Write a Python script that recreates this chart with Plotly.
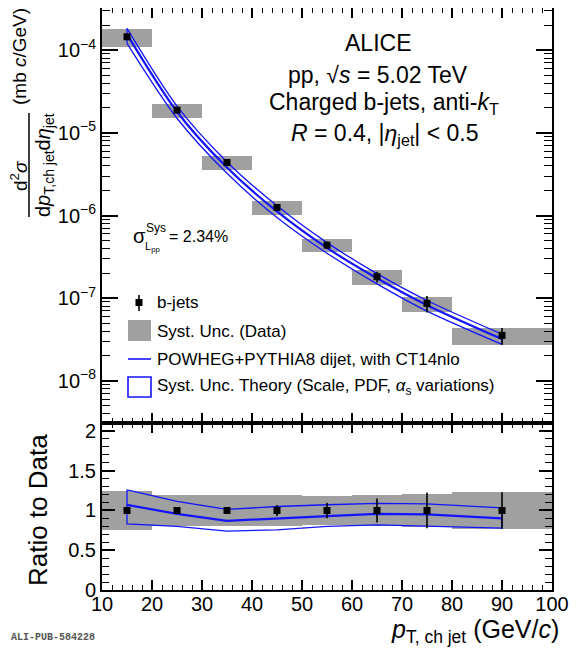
import plotly.graph_objects as go

# ---------------- data ----------------
bin_lo = [10, 20, 30, 40, 50, 60, 70, 80]
bin_hi = [20, 30, 40, 50, 60, 70, 80, 100]
pt = [15, 25, 35, 45, 55, 65, 75, 90]
xsec = [1.45e-4, 1.88e-5, 4.38e-6, 1.25e-6, 4.38e-7, 1.82e-7, 8.65e-8, 3.55e-8]
stat_rel = [0.005, 0.01, 0.025, 0.07, 0.097, 0.15, 0.225, 0.23]
sys_rel = [0.24, 0.20, 0.19, 0.19, 0.18, 0.20, 0.21, 0.235]

theo_c = [1.55e-4, 1.80e-5, 3.81e-6, 1.12e-6, 4.06e-7, 1.74e-7, 8.22e-8, 3.20e-8]
theo_up = [1.83e-4, 2.10e-5, 4.44e-6, 1.31e-6, 4.70e-7, 1.98e-7, 9.38e-8, 3.67e-8]
theo_dn = [1.21e-4, 1.50e-5, 3.24e-6, 9.46e-7, 3.50e-7, 1.49e-7, 6.98e-8, 2.76e-8]

ratio_data = [1, 1, 1, 1, 1, 1, 1, 1]
ratio_c = [1.07, 0.958, 0.87, 0.895, 0.928, 0.958, 0.95, 0.90]
ratio_up = [1.26, 1.115, 1.013, 1.05, 1.072, 1.09, 1.084, 1.034]
ratio_dn = [0.832, 0.80, 0.74, 0.757, 0.80, 0.82, 0.807, 0.778]

log_major = [1e-8, 1e-7, 1e-6, 1e-5, 1e-4]
log_labels = ["10<sup>−8</sup>", "10<sup>−7</sup>", "10<sup>−6</sup>",
              "10<sup>−5</sup>", "10<sup>−4</sup>"]
log_minor = [m * 10.0 ** e for e in range(-9, -3) for m in range(2, 10)]

# ---------------- geometry helpers ----------------
PAGE_W, PAGE_H = 582, 650
BODY = 8                      # default body margin of the html page
W, H = PAGE_W - BODY, PAGE_H - BODY
L, R, T, B = 102, 552, 8, 590  # plot-area edges in page pixels
SPLIT = 423


def fx(px):
    return (px - L) / (R - L)


def fy(py):
    return (B - py) / (B - T)


GREY = "#a0a0a0"
BLUE = "#1414ff"
FONT = "Liberation Sans"

widths = [h - l for l, h in zip(bin_lo, bin_hi)]

fig = go.Figure()

# ---------------- top panel ----------------
fig.add_trace(go.Bar(
    x=pt, width=widths,
    base=[v * (1 - s) for v, s in zip(xsec, sys_rel)],
    y=[v * 2 * s for v, s in zip(xsec, sys_rel)],
    marker=dict(color=GREY, line=dict(width=0)),
    xaxis="x2", yaxis="y2", hoverinfo="skip"))
fig.add_trace(go.Scatter(x=pt, y=theo_up, mode="lines",
                         line=dict(color=BLUE, width=1.3, shape="spline", smoothing=0.8),
                         xaxis="x2", yaxis="y2"))
fig.add_trace(go.Scatter(x=pt, y=theo_dn, mode="lines",
                         line=dict(color=BLUE, width=1.3, shape="spline", smoothing=0.8),
                         xaxis="x2", yaxis="y2"))
fig.add_trace(go.Scatter(x=[pt[0], pt[0], None, pt[-1], pt[-1]],
                         y=[theo_dn[0], theo_up[0], None, theo_dn[-1], theo_up[-1]],
                         mode="lines", line=dict(color=BLUE, width=1.3),
                         xaxis="x2", yaxis="y2"))
fig.add_trace(go.Scatter(x=pt, y=theo_c, mode="lines",
                         line=dict(color=BLUE, width=2.2, shape="spline", smoothing=0.8),
                         xaxis="x2", yaxis="y2"))
fig.add_trace(go.Scatter(
    x=pt, y=xsec, mode="markers",
    marker=dict(symbol="square", size=7, color="black"),
    error_y=dict(type="data", array=[v * s for v, s in zip(xsec, stat_rel)],
                 color="black", thickness=1.6, width=0),
    xaxis="x2", yaxis="y2"))

# ---------------- ratio panel ----------------
fig.add_trace(go.Bar(
    x=pt, width=widths,
    base=[r * (1 - s) for r, s in zip(ratio_data, sys_rel)],
    y=[r * 2 * s for r, s in zip(ratio_data, sys_rel)],
    marker=dict(color=GREY, line=dict(width=0)),
    xaxis="x", yaxis="y", hoverinfo="skip"))
fig.add_trace(go.Scatter(
    x=pt + pt[::-1] + [pt[0]],
    y=ratio_up + ratio_dn[::-1] + [ratio_up[0]],
    mode="lines", line=dict(color=BLUE, width=1.3),
    xaxis="x", yaxis="y"))
fig.add_trace(go.Scatter(x=pt, y=ratio_c, mode="lines",
                         line=dict(color=BLUE, width=2.2),
                         xaxis="x", yaxis="y"))
fig.add_trace(go.Scatter(
    x=pt, y=ratio_data, mode="markers",
    marker=dict(symbol="square", size=7, color="black"),
    error_y=dict(type="data", array=stat_rel, color="black", thickness=1.6, width=0),
    xaxis="x", yaxis="y"))

# ---------------- axes ----------------
common_x = dict(range=[10, 100], tick0=10, dtick=10, ticks="inside", ticklen=10,
                tickwidth=1.5, tickcolor="black", showline=True, linewidth=2,
                linecolor="black", mirror="allticks", showgrid=False, zeroline=False,
                minor=dict(ticks="inside", ticklen=5, tickwidth=1.2, tickcolor="black",
                           dtick=2, tick0=10, showgrid=False),
                tickfont=dict(family=FONT, size=20, color="black"))

fig.update_layout(
    width=W, height=H,
    margin=dict(l=L - BODY, r=W - (R - BODY), t=T - BODY, b=H - (B - BODY), pad=0,
                autoexpand=False),
    paper_bgcolor="white", plot_bgcolor="white",
    showlegend=False, barmode="overlay", bargap=0,
    font=dict(family=FONT, size=20, color="black"),
    xaxis=dict(domain=[0, 1], anchor="y", ticklabelstandoff=-5, **common_x),
    xaxis2=dict(domain=[0, 1], anchor="y2", matches="x", showticklabels=False, **common_x),
    yaxis=dict(domain=[0, fy(SPLIT)], anchor="x", range=[0, 2.1], tick0=0, dtick=0.5,
               ticks="inside", ticklen=13, tickwidth=1.5, tickcolor="black",
               showline=True, linewidth=2, linecolor="black", mirror="allticks",
               showgrid=False, zeroline=False,
               minor=dict(ticks="inside", ticklen=7, tickwidth=1.2, tickcolor="black",
                          dtick=0.1, tick0=0, showgrid=False),
               tickfont=dict(family=FONT, size=20, color="black")),
    yaxis2=dict(domain=[fy(SPLIT), 1], anchor="x2", type="log", range=[-8.51, -3.49],
                tickmode="array", tickvals=log_major, ticktext=log_labels,
                ticks="inside", ticklen=16, tickwidth=1.5, tickcolor="black",
                showline=True, linewidth=2, linecolor="black", mirror="allticks",
                showgrid=False, zeroline=False,
                minor=dict(ticks="inside", ticklen=8, tickwidth=1.2, tickcolor="black",
                           tickmode="array", tickvals=log_minor, showgrid=False),
                tickfont=dict(family=FONT, size=20, color="black")),
)

# ---------------- text ----------------
ann = []


def add_text(text, px, py, size, xanchor="center", yanchor="middle", angle=0,
             family=FONT, color="black"):
    ann.append(dict(text=text, x=fx(px), y=fy(py), xref="paper", yref="paper",
                    xanchor=xanchor, yanchor=yanchor, showarrow=False, textangle=angle,
                    font=dict(family=family, size=size, color=color)))


add_text("ALICE", 378, 43, 23)
add_text("pp, √<i>s</i> = 5.02 TeV", 378, 75, 23)
add_text("Charged b-jets, anti-<i>k</i><sub>T</sub>", 384, 104, 23)
add_text("<i>R</i> = 0.4, |<i>η</i><sub>jet</sub>| &lt; 0.5", 385, 134, 23)

# sigma_L annotation
add_text("σ", 131, 236, 20, xanchor="left")
add_text("Sys", 144, 228, 12, xanchor="left")
add_text("L<sub>pp</sub>", 143, 247, 11, xanchor="left")
add_text("= 2.34%", 167, 236, 16, xanchor="left")

# y-axis title (top)
add_text("d<sup>2</sup><i>σ</i>", 19, 176, 19, angle=-90)
add_text("d<i>p</i><sub>T,ch jet</sub>d<i>η</i><sub>jet</sub>", 44, 165, 20, angle=-90)
add_text("(mb <i>c</i>/GeV)", 19, 57, 19, angle=-90)

# ratio y title
add_text("Ratio to Data", 38, 510, 26, angle=-90)

# x title
add_text("<i>p</i><sub>T, ch jet</sub> (GeV/<i>c</i>)", 561, 631, 25, xanchor="right")

# watermark
add_text("<b>ALI-PUB-584228</b>", 9, 637, 10, xanchor="left", family="Liberation Mono",
         color="#555555")

# legend texts
add_text("b-jets", 155, 302, 17, xanchor="left")
add_text("Syst. Unc. (Data)", 155, 331, 17, xanchor="left")
add_text("POWHEG+PYTHIA8 dijet, with CT14nlo", 155, 359, 17, xanchor="left")
add_text("Syst. Unc. Theory (Scale, PDF, <i>α</i><sub>s</sub> variations)", 155, 387, 17,
         xanchor="left")

fig.update_layout(annotations=ann)

# ---------------- shapes (title fraction bar and legend keys) ----------------
shapes = [
    dict(type="line", xref="paper", yref="paper", x0=fx(29), x1=fx(29),
         y0=fy(113), y1=fy(217), line=dict(color="black", width=1.5)),
    # b-jets key
    dict(type="line", xref="paper", yref="paper", x0=fx(139), x1=fx(139),
         y0=fy(295), y1=fy(311), line=dict(color="black", width=1.6)),
    dict(type="rect", xref="paper", yref="paper", x0=fx(135.5), x1=fx(142.5),
         y0=fy(299), y1=fy(306), fillcolor="black", line=dict(width=0)),
    # data syst key
    dict(type="rect", xref="paper", yref="paper", x0=fx(128), x1=fx(151),
         y0=fy(320), y1=fy(341), fillcolor=GREY, line=dict(width=0)),
    # theory line key
    dict(type="line", xref="paper", yref="paper", x0=fx(128), x1=fx(151),
         y0=fy(359), y1=fy(359), line=dict(color=BLUE, width=1.6)),
    # theory syst key
    dict(type="rect", xref="paper", yref="paper", x0=fx(128), x1=fx(151),
         y0=fy(377), y1=fy(397), fillcolor="white", line=dict(color=BLUE, width=1.6)),
]
fig.update_layout(shapes=shapes)

fig.write_html("out.html")
